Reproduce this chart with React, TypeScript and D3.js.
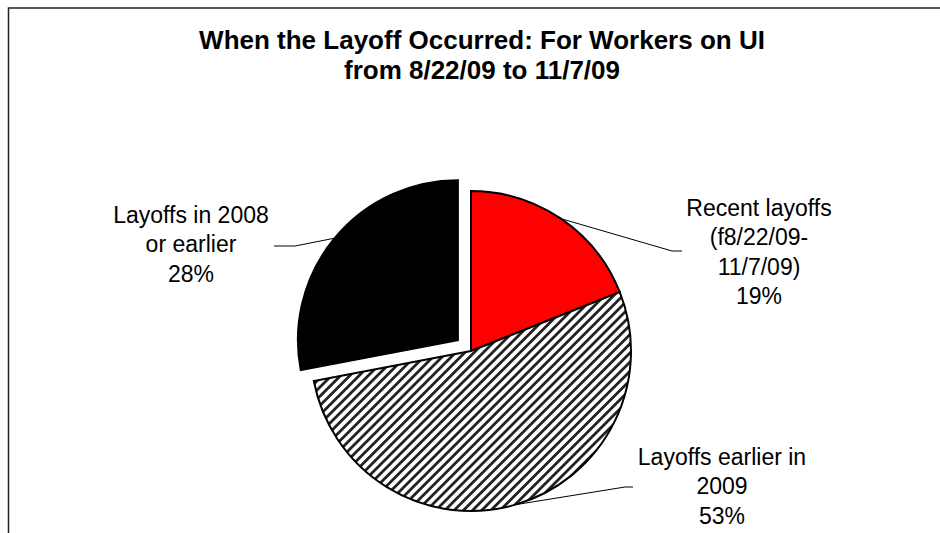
import React from "react";
import * as d3 from "d3";

// ---- data ----
const titleLines = ["When the Layoff Occurred: For Workers on UI", "from 8/22/09 to 11/7/09"];
const categories = ["Recent layoffs (f8/22/09-11/7/09)", "Layoffs earlier in 2009", "Layoffs in 2008 or earlier"];
const values = [19, 53, 28];
const labelLines = [
  ["Recent layoffs", "(f8/22/09-", "11/7/09)"],
  ["Layoffs earlier in", "2009"],
  ["Layoffs in 2008", "or earlier"],
];

// ---- layout / style ----
const W = 940;
const H = 533;
const cx = 471;
const cy = 351;
const R = 160;
const explode = [0, 0, 17];
const fills = ["#FF0000", "url(#hatch)", "#000000"];
const labelPos = [
  { x: 759, y: 216, elbow: [672, 251], end: [682, 251] },
  { x: 722, y: 465, elbow: [625, 487], end: [633, 487] },
  { x: 191, y: 223, elbow: [295, 246], end: [274, 246] },
];
const lineH = 29.3;
const font = "'Liberation Sans', Arial, sans-serif";

export default function App() {
  const data = categories.map((c, i) => ({ c, v: values[i], i }));
  const pie = d3.pie<any>().value((d) => d.v).sort(null).startAngle(0);
  const arcs = pie(data);
  const arc = d3.arc<any>().innerRadius(0).outerRadius(R);

  return (
    <div style={{ position: "absolute", left: 0, top: 0 }}>
      <svg width={W} height={H} style={{ display: "block", background: "#fff" }}>
        <defs>
          <pattern id="hatch" patternUnits="userSpaceOnUse" width={6.5} height={6.5} patternTransform="rotate(45)">
            <rect width={6.5} height={6.5} fill="#fff" />
            <line x1={3.25} y1={0} x2={3.25} y2={6.5} stroke="#222" strokeWidth={2.8} />
          </pattern>
        </defs>
        <rect x={8.5} y={8} width={1000} height={1000} fill="none" stroke="#222" strokeWidth={1.5} />
        {titleLines.map((t, i) => (
          <text key={i} x={482} y={49 + i * 30} textAnchor="middle" fontFamily={font} fontWeight="bold" fontSize={26} fill="#000">
            {t}
          </text>
        ))}
        {arcs.map((a, i) => {
          const mid = (a.startAngle + a.endAngle) / 2;
          const dx = Math.sin(mid) * explode[i];
          const dy = -Math.cos(mid) * explode[i];
          return (
            <g key={i} transform={`translate(${cx + dx},${cy + dy})`}>
              <path d={arc(a) as string} fill={fills[i]} stroke="#000" strokeWidth={2} strokeLinejoin="miter" />
            </g>
          );
        })}
        {arcs.map((a, i) => {
          const mid = (a.startAngle + a.endAngle) / 2;
          const sx = cx + Math.sin(mid) * (R + explode[i]);
          const sy = cy - Math.cos(mid) * (R + explode[i]);
          const lp = labelPos[i];
          const lines = [...labelLines[i], `${values[i]}%`];
          return (
            <g key={"l" + i}>
              <polyline
                points={`${sx},${sy} ${lp.elbow[0]},${lp.elbow[1]} ${lp.end[0]},${lp.end[1]}`}
                fill="none"
                stroke="#000"
                strokeWidth={1}
              />
              {lines.map((t, j) => (
                <text key={j} x={lp.x} y={lp.y + j * lineH} textAnchor="middle" fontFamily={font} fontSize={23} fill="#000">
                  {t}
                </text>
              ))}
            </g>
          );
        })}
      </svg>
    </div>
  );
}
